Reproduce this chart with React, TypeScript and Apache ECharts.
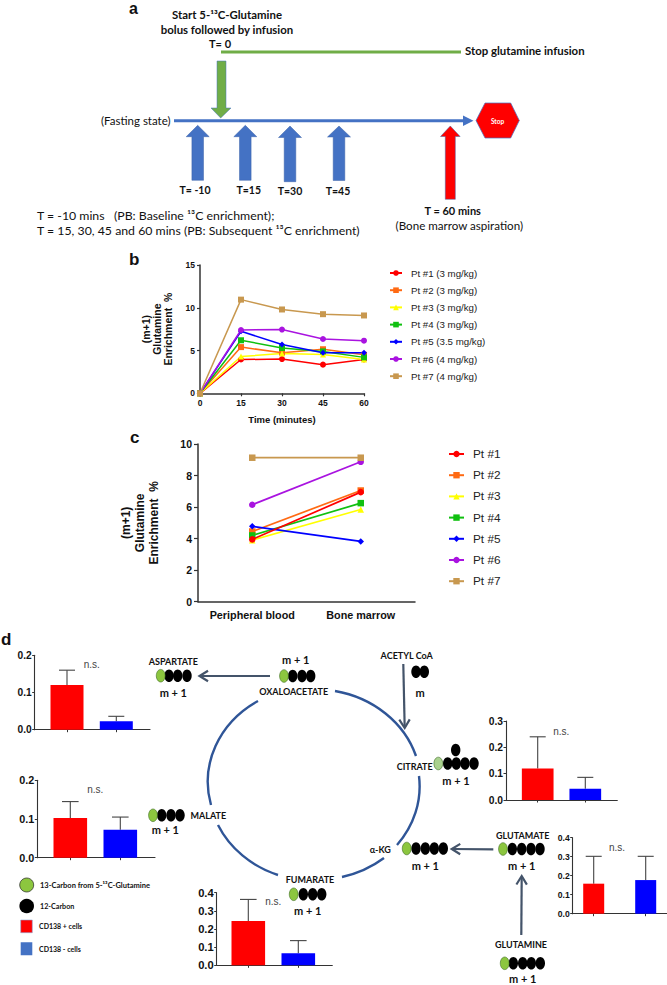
import React, { useEffect, useRef } from "react";
import * as echarts from "echarts";

// ---------- data ----------
const timePoints = [0, 15, 30, 45, 60];
const patientColors = ["#ff0000", "#ff6a13", "#ffff00", "#10c010", "#0000ff", "#a913e0", "#c8984f"];
const patientSymbols = ["circle", "rect", "triangle", "triangleDown", "diamond", "circle", "rect"];
const patientDoses = ["3 mg/kg", "3 mg/kg", "3 mg/kg", "3 mg/kg", "3.5 mg/kg", "4 mg/kg", "4 mg/kg"];
const pt1Time = [0, 3.95, 4.0, 3.35, 3.95];
const pt2Time = [0, 5.4, 4.75, 5.15, 4.5];
const pt3Time = [0, 4.3, 4.65, 4.55, 3.95];
const pt4Time = [0, 6.2, 5.3, 4.9, 4.2];
const pt5Time = [0, 7.25, 5.7, 4.75, 4.75];
const pt6Time = [0, 7.4, 7.45, 6.35, 6.15];
const pt7Time = [0, 10.95, 9.8, 9.25, 9.1];
const timeSeries = [pt1Time, pt2Time, pt3Time, pt4Time, pt5Time, pt6Time, pt7Time];

const tissues = ["Peripheral blood", "Bone marrow"];
const pt1Tissue = [3.95, 6.95];
const pt2Tissue = [4.45, 7.05];
const pt3Tissue = [3.9, 5.85];
const pt4Tissue = [4.2, 6.25];
const pt5Tissue = [4.78, 3.82];
const pt6Tissue = [6.15, 8.87];
const pt7Tissue = [9.13, 9.13];
const tissueSeries = [pt1Tissue, pt2Tissue, pt3Tissue, pt4Tissue, pt5Tissue, pt6Tissue, pt7Tissue];

const aspartateMeans = [0.12, 0.023];
const aspartateTops = [0.16, 0.036];
const malateMeans = [0.1026, 0.0724];
const malateTops = [0.145, 0.105];
const fumarateMeans = [0.244, 0.066];
const fumarateTops = [0.363, 0.136];
const citrateMeans = [0.12, 0.043];
const citrateTops = [0.24, 0.086];
const glutamateMeans = [0.158, 0.177];
const glutamateTops = [0.302, 0.302];
const cellColors = ["#ff0000", "#0000ff"];

// ---------- helpers ----------
const LATO = "Lato, Carlito, sans-serif";
const ARIAL = "'Liberation Sans', Arial, sans-serif";
const AXIS = "#333";

function txt(text: string, x: number, y: number, size: number, o: any = {}) {
  return {
    type: "text",
    x,
    y,
    silent: true,
    style: {
      text,
      fill: o.fill || "#111",
      fontFamily: o.family || LATO,
      fontSize: size,
      fontWeight: o.weight || "bold",
      align: o.align || "center",
      textAlign: o.align || "center",
      verticalAlign: "middle",
      textVerticalAlign: "middle",
    },
  };
}

function upArrow(cx: number, tip: number, base: number, bottom: number, hw: number, sw: number, fill: string) {
  return {
    type: "polygon",
    silent: true,
    shape: {
      points: [
        [cx, tip], [cx + hw, base], [cx + sw, base], [cx + sw, bottom],
        [cx - sw, bottom], [cx - sw, base], [cx - hw, base],
      ],
    },
    style: { fill, stroke: "#3a62a8", lineWidth: 0.5 },
  };
}

function oval(cx: number, cy: number, fill: string, rx = 4.7, ry = 6.3) {
  return {
    type: "ellipse",
    silent: true,
    shape: { cx, cy, rx, ry },
    style: { fill, stroke: fill === "#000" ? "#000" : "#3d6b22", lineWidth: fill === "#000" ? 0 : 0.6 },
  };
}

function cluster(gx: number, y: number, blacks: number[], green = "#8cc63f") {
  return [...blacks.map((b) => oval(b, y, "#000")), oval(gx, y, green, 4.4)];
}

function openArrow(x1: number, y1: number, x2: number, y2: number) {
  const a = Math.atan2(y2 - y1, x2 - x1);
  const L = 10;
  const spread = 0.55;
  const p1 = [x2 - L * Math.cos(a - spread), y2 - L * Math.sin(a - spread)];
  const p2 = [x2 - L * Math.cos(a + spread), y2 - L * Math.sin(a + spread)];
  const style = { stroke: "#44546a", lineWidth: 2.2, fill: "none" };
  return [
    { type: "line", silent: true, shape: { x1, y1, x2: x2 - 2 * Math.cos(a), y2: y2 - 2 * Math.sin(a) }, style },
    { type: "polyline", silent: true, shape: { points: [p1, [x2, y2], p2] }, style },
  ];
}

function buildGraphic() {
  const blueF = "#4472c4";
  const ns = { family: ARIAL, weight: "normal", fill: "#444" };
  const els: any[] = [
    txt("a", 129, 8.5, 16, { family: ARIAL, align: "left" }),
    txt("b", 129, 259, 17, { family: ARIAL, align: "left" }),
    txt("c", 130, 437, 17, { family: ARIAL, align: "left" }),
    txt("d", 1, 639, 17, { family: ARIAL, align: "left" }),
    // panel a
    txt("Start 5-¹³C-Glutamine", 227, 14, 11.4),
    txt("bolus followed by infusion", 227, 29, 11.4),
    txt("T= 0", 220, 43, 11),
    { type: "line", silent: true, shape: { x1: 221, y1: 52, x2: 461, y2: 52 }, style: { stroke: "#70ad47", lineWidth: 3 } },
    txt("Stop glutamine infusion", 465, 50, 11.4, { align: "left" }),
    {
      type: "polygon", silent: true,
      shape: { points: [[217, 61], [226, 61], [226, 108], [231, 108], [220.7, 118], [211, 108], [217, 108]] },
      style: { fill: "#70ad47", stroke: "#4472c4", lineWidth: 0.5 },
    },
    { type: "line", silent: true, shape: { x1: 174, y1: 120.7, x2: 464, y2: 120.7 }, style: { stroke: blueF, lineWidth: 3 } },
    { type: "polygon", silent: true, shape: { points: [[463, 115.5], [473.5, 120.7], [463, 126]] }, style: { fill: blueF } },
    txt("(Fasting state)", 101, 120, 11.5, { align: "left", weight: "normal" }),
    {
      type: "polygon", silent: true,
      shape: { points: [[476, 120.5], [485, 103], [510.7, 103], [519.3, 120.5], [510.7, 138], [485, 138]] },
      style: { fill: "#ff0000", stroke: "#4472c4", lineWidth: 0.7 },
    },
    txt("Stop", 497.5, 121, 6.5, { fill: "#fff" }),
    upArrow(197.7, 125.3, 136.7, 180.3, 11.5, 5.8, blueF),
    upArrow(245.3, 125.3, 136.7, 180.3, 11.5, 5.8, blueF),
    upArrow(290, 126, 137.5, 181.7, 11.5, 5.8, blueF),
    upArrow(339, 126, 137, 180.5, 11.5, 5.8, blueF),
    { ...upArrow(450.3, 126, 136.5, 199.3, 9.8, 5, "#ff0000") },
    txt("T= -10", 195, 190, 10.5),
    txt("T=15", 248.7, 190, 10.5),
    txt("T=30", 290, 191, 10.5),
    txt("T=45", 338, 191, 10.5),
    txt("T = 60 mins", 452.7, 210, 11),
    txt("(Bone marrow aspiration)", 459.3, 225, 11.6, { weight: "normal" }),
    txt("T = -10 mins   (PB: Baseline ¹³C enrichment);", 37, 215, 12.3, { align: "left", weight: "normal" }),
    txt("T = 15, 30, 45 and 60 mins (PB: Subsequent ¹³C enrichment)", 37, 230, 12.3, { align: "left", weight: "normal" }),
    // cycle
    {
      type: "tcaCycle", silent: true, x: 0, y: 0,
      style: { fill: "none", stroke: "#2f5597", lineWidth: 2.4 },
    },
    ...openArrow(270, 676, 199.5, 676),
    ...openArrow(403.3, 664, 404.7, 728),
    ...openArrow(493.3, 849.3, 451.7, 849),
    ...openArrow(521.3, 935, 521.7, 876),
    // metabolites
    txt("ASPARTATE", 173.3, 661, 9),
    ...cluster(160.7, 675.7, [169, 177.7, 187]),
    txt("m + 1", 173.3, 692, 11),
    txt("m + 1", 295.7, 659, 11),
    ...cluster(284, 676, [292.7, 302, 310.7]),
    txt("OXALOACETATE", 293.7, 691.7, 9),
    txt("ACETYL CoA", 406.7, 655.7, 9),
    oval(416, 671.7, "#000"),
    oval(424.3, 671.7, "#000"),
    txt("m", 420, 692, 11),
    txt("CITRATE", 414.7, 766.7, 9),
    oval(455.7, 750, "#000"),
    ...cluster(438.3, 763.5, [447.7, 456.3, 465, 474], "#a9d18e"),
    txt("m + 1", 456, 780, 11),
    txt("α-KG", 380.3, 849, 9),
    ...cluster(406.7, 848.5, [416, 425.3, 434.3, 443.3]),
    txt("m + 1", 425.3, 865, 11),
    txt("GLUTAMATE", 522.7, 835, 9),
    ...cluster(503, 849, [512.3, 521.7, 531, 540]),
    txt("m + 1", 521.7, 865, 11),
    txt("GLUTAMINE", 521, 944, 9),
    ...cluster(504.7, 963.3, [513.3, 522.7, 531.3, 540.3]),
    txt("m + 1", 522.7, 978.5, 11),
    txt("FUMARATE", 310, 879, 9),
    ...cluster(293.7, 894.3, [303.3, 312.7, 321.7]),
    txt("m + 1", 307.7, 910.7, 11),
    txt("MALATE", 208.3, 815.7, 9),
    ...cluster(153, 815.3, [161.7, 171, 180]),
    txt("m + 1", 165.3, 829.7, 11),
    // n.s.
    txt("n.s.", 91.7, 664, 10, ns),
    txt("n.s.", 95.3, 789.7, 10, ns),
    txt("n.s.", 273.3, 901.7, 10, ns),
    txt("n.s.", 561.3, 731.7, 10, ns),
    txt("n.s.", 617, 847.3, 10, ns),
    // key
    { type: "circle", silent: true, shape: { cx: 26.7, cy: 885, r: 7 }, style: { fill: "#8cc63f", stroke: "#222", lineWidth: 0.7 } },
    { type: "circle", silent: true, shape: { cx: 26.7, cy: 906, r: 7.3 }, style: { fill: "#000" } },
    { type: "rect", silent: true, shape: { x: 20.7, y: 920, width: 11.6, height: 12.7 }, style: { fill: "#ff0000", stroke: "#8fa8d8", lineWidth: 0.6 } },
    { type: "rect", silent: true, shape: { x: 20.7, y: 942.3, width: 11.6, height: 13 }, style: { fill: "#4472c4" } },
    txt("13-Carbon from 5-¹³C-Glutamine", 40, 885, 7.5, { align: "left" }),
    txt("12-Carbon", 40, 906, 7.2, { align: "left" }),
    txt("CD138 + cells", 39, 925.7, 7, { align: "left" }),
    txt("CD138 - cells", 39, 949, 7, { align: "left" }),
  ];
  return els;
}

// ---------- bar panels ----------
const barPanels = [
  { means: aspartateMeans, tops: aspartateTops, left: 34.7, right: 150, top: 655.3, bottom: 729.7, max: 0.2, interval: 0.1, t1: 67, t2: 116.3, w: 33, font: 10.2, cap: 8 },
  { means: malateMeans, tops: malateTops, left: 37.3, right: 155, top: 780.3, bottom: 857.7, max: 0.2, interval: 0.1, t1: 70.3, t2: 120.3, w: 33.6, font: 10.8, cap: 8.3 },
  { means: fumarateMeans, tops: fumarateTops, left: 216.7, right: 332.3, top: 892.7, bottom: 965.3, max: 0.4, interval: 0.1, t1: 248.3, t2: 298.3, w: 33.6, font: 11.2, cap: 8.3 },
  { means: citrateMeans, tops: citrateTops, left: 506, right: 617.3, top: 721, bottom: 800, max: 0.3, interval: 0.1, t1: 537.7, t2: 585.3, w: 31.7, font: 10.3, cap: 8 },
  { means: glutamateMeans, tops: glutamateTops, left: 572.7, right: 667, top: 837.7, bottom: 913.7, max: 0.4, interval: 0.1, t1: 593.7, t2: 645.7, w: 21, font: 8.6, cap: 8 },
];

function buildOption() {
  const grid: any[] = [
    { left: 200, width: 164, top: 265, height: 128.3 },
    { left: 198, width: 217, top: 444, height: 157.7 },
  ];
  const xAxis: any[] = [
    {
      gridIndex: 0, type: "value", min: 0, max: 60, interval: 15, name: "Time (minutes)",
      nameLocation: "middle", nameGap: 21,
      nameTextStyle: { fontFamily: ARIAL, fontWeight: "bold", fontSize: 9.5, color: "#111" },
      splitLine: { show: false },
      axisLine: { lineStyle: { color: AXIS, width: 1.5 } },
      axisTick: { length: 3, lineStyle: { color: AXIS, width: 1.2 } },
      axisLabel: { fontFamily: ARIAL, fontWeight: "bold", fontSize: 8.5, color: "#111", margin: 5 },
    },
    {
      gridIndex: 1, type: "category", data: tissues,
      axisLine: { lineStyle: { color: AXIS, width: 1.5 } },
      axisTick: { alignWithLabel: true, length: 4, lineStyle: { color: AXIS, width: 1.2 } },
      axisLabel: { fontFamily: ARIAL, fontWeight: "bold", fontSize: 10.8, color: "#111", margin: 8, interval: 0, hideOverlap: false },
    },
  ];
  const yAxis: any[] = [
    {
      gridIndex: 0, type: "value", min: 0, max: 15, interval: 5,
      name: "(m+1)\nGlutamine\nEnrichment  %", nameLocation: "middle", nameRotate: 90, nameGap: 27,
      nameTextStyle: { fontFamily: ARIAL, fontWeight: "bold", fontSize: 10.5, color: "#111", lineHeight: 11, align: "center" },
      splitLine: { show: false },
      axisLine: { show: true, lineStyle: { color: AXIS, width: 1.5 } },
      axisTick: { show: true, length: 3, lineStyle: { color: AXIS, width: 1.2 } },
      axisLabel: { fontFamily: ARIAL, fontWeight: "bold", fontSize: 8.5, color: "#111", margin: 5 },
    },
    {
      gridIndex: 1, type: "value", min: 0, max: 10, interval: 2,
      name: "(m+1)\nGlutamine\nEnrichment  %", nameLocation: "middle", nameRotate: 90, nameGap: 37,
      nameTextStyle: { fontFamily: ARIAL, fontWeight: "bold", fontSize: 12, color: "#111", lineHeight: 14, align: "center" },
      splitLine: { show: false },
      axisLine: { show: true, lineStyle: { color: AXIS, width: 1.5 } },
      axisTick: { show: true, length: 4, lineStyle: { color: AXIS, width: 1.2 } },
      axisLabel: { fontFamily: ARIAL, fontWeight: "bold", fontSize: 10.5, color: "#111", margin: 6 },
    },
  ];
  const series: any[] = [];
  timeSeries.forEach((vals, i) => {
    series.push({
      type: "line", name: `Pt #${i + 1} (${patientDoses[i]})`,
      xAxisIndex: 0, yAxisIndex: 0,
      data: vals.map((v, k) => [timePoints[k], v]),
      symbol: patientSymbols[i], symbolSize: 6,
      itemStyle: { color: patientColors[i] },
      lineStyle: { color: patientColors[i], width: 1.5 },
      clip: false,
    });
  });
  tissueSeries.forEach((vals, i) => {
    series.push({
      type: "line", name: `Pt #${i + 1}`,
      xAxisIndex: 1, yAxisIndex: 1,
      data: vals,
      symbol: patientSymbols[i], symbolSize: 6.5,
      itemStyle: { color: patientColors[i] },
      lineStyle: { color: patientColors[i], width: 1.7 },
      clip: false,
      z: i === 0 ? 4 : 2,
    });
  });

  barPanels.forEach((p) => {
    const g = grid.length;
    grid.push({ left: p.left, width: p.right - p.left, top: p.top, height: p.bottom - p.top });
    const band = p.t2 - p.t1;
    xAxis.push({
      gridIndex: g, type: "value",
      min: 1 - (p.t1 - p.left) / band,
      max: 2 + (p.right - p.t2) / band,
      splitLine: { show: false },
      axisLine: { lineStyle: { color: AXIS, width: 1.1 }, onZero: false },
      axisTick: { length: 2.5, customValues: [1, 2], lineStyle: { color: AXIS } },
      axisLabel: { show: false },
    });
    yAxis.push({
      gridIndex: g, type: "value", min: 0, max: p.max, interval: p.interval,
      splitLine: { show: false },
      axisLine: { show: true, lineStyle: { color: AXIS, width: 1.1 } },
      axisTick: { show: true, length: 2.5, lineStyle: { color: AXIS } },
      axisLabel: {
        fontFamily: ARIAL, fontWeight: "bold", fontSize: p.font, color: "#111", margin: 3,
        formatter: (v: number) => v.toFixed(1),
      },
    });
    series.push({
      type: "custom", xAxisIndex: g, yAxisIndex: g, clip: false, z: 1,
      data: p.means.map((m, k) => [k + 1, m, p.tops[k]]),
      encode: { x: 0, y: 2 },
      renderItem: (_: any, api: any) => {
        const x = api.value(0);
        const base = api.coord([x, api.value(1)]);
        const top = api.coord([x, api.value(2)]);
        const style = { stroke: "#444", lineWidth: 1.1, fill: "none" };
        return {
          type: "group",
          children: [
            { type: "line", shape: { x1: base[0], y1: base[1], x2: top[0], y2: top[1] }, style },
            { type: "line", shape: { x1: top[0] - p.cap, y1: top[1], x2: top[0] + p.cap, y2: top[1] }, style },
          ],
        };
      },
    });
    series.push({
      type: "bar", xAxisIndex: g, yAxisIndex: g, barWidth: p.w, z: 2,
      data: p.means.map((m, k) => ({ value: [k + 1, m], itemStyle: { color: cellColors[k] } })),
    });
  });

  const legendText = (size: number, pad: number, lh: number) => ({
    fontFamily: ARIAL, fontSize: size, color: "#222", padding: [0, 0, 0, pad], lineHeight: lh,
  });
  return {
    animation: false,
    backgroundColor: "#fff",
    grid,
    xAxis,
    yAxis,
    series,
    legend: [
      {
        orient: "vertical", left: 389, top: 267, padding: 0, itemGap: 5.2, itemWidth: 12, itemHeight: 7,
        data: timeSeries.map((_, i) => `Pt #${i + 1} (${patientDoses[i]})`),
        textStyle: legendText(9.7, 4, 12),
        selectedMode: false,
      },
      {
        orient: "vertical", left: 448, top: 446, padding: 0, itemGap: 5.2, itemWidth: 15, itemHeight: 8,
        data: tissueSeries.map((_, i) => `Pt #${i + 1}`),
        textStyle: legendText(11.8, 4, 16),
        selectedMode: false,
      },
    ],
    graphic: { elements: buildGraphic() },
  };
}

const cycleD =
  "M258 701 A106 95 0 0 0 211 805 " +
  "M218 825 A106 95 0 0 0 278 875 " +
  "M342 877 A106 95 0 0 0 384 858 " +
  "M397 845 A106 95 0 0 0 419 776 " +
  "M416 756 A106 95 0 0 0 335 691";
echarts.graphic.registerShape("tcaCycle", echarts.graphic.extendPath(cycleD, {}) as any);

export default function App() {
  const ref = useRef<HTMLDivElement>(null);
  useEffect(() => {
    document.body.style.margin = "0";
    const chart = echarts.init(ref.current!, undefined, { renderer: "svg" });
    chart.setOption(buildOption() as any);
    return () => chart.dispose();
  }, []);
  return <div ref={ref} style={{ width: 667, height: 985 }} />;
}
